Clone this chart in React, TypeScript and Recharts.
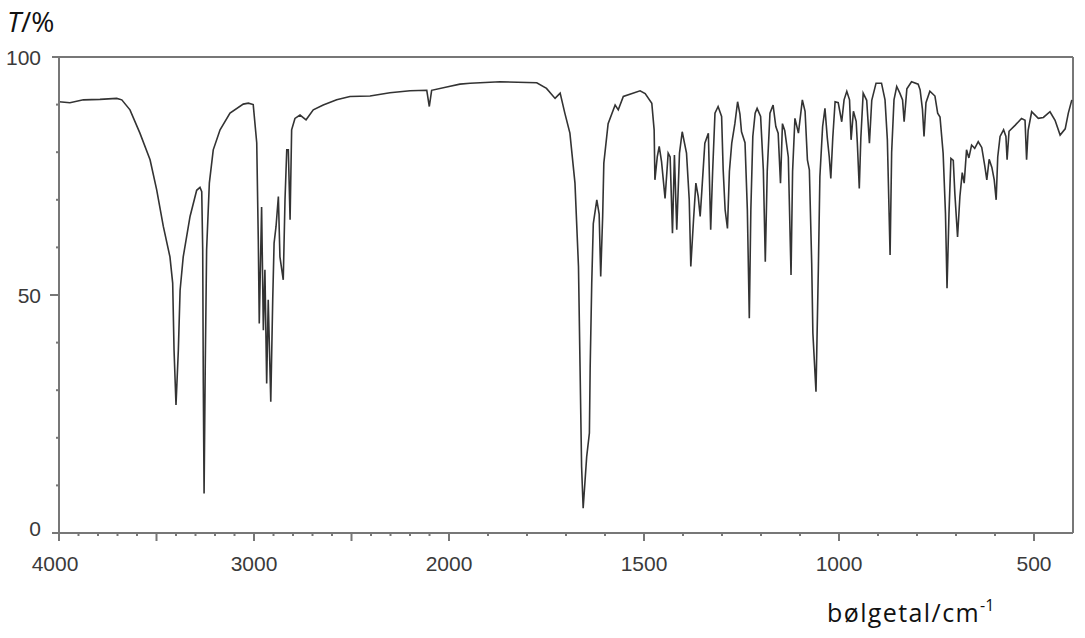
import React from "react";
import { LineChart, Line, XAxis, YAxis, ReferenceLine } from "recharts";

// IR spectrum: wavenumber (cm-1) and transmittance (%)
const wavenumbers = [
  4000, 3944, 3875, 3790, 3704, 3678, 3636, 3585, 3533, 3499, 3465, 3431, 3417, 3410, 3400, 3388, 3379, 3363,
  3328, 3294, 3277, 3268, 3263, 3260, 3256, 3250, 3243, 3229, 3209, 3174, 3123, 3055, 3029, 3004, 2986, 2978,
  2973, 2961, 2952, 2944, 2935, 2927, 2914, 2904, 2897, 2887, 2875, 2867, 2850, 2841, 2832, 2824, 2815, 2807,
  2790, 2764, 2733, 2696, 2645, 2576, 2508, 2405, 2303, 2200, 2114, 2101, 2089, 2000,
  1972, 1946, 1869, 1775, 1750, 1728, 1715, 1703, 1690, 1677, 1668, 1664, 1660, 1656, 1647, 1640, 1638, 1634,
  1630, 1621, 1615, 1611, 1606, 1603, 1592, 1574, 1566, 1553, 1510, 1497, 1480, 1474, 1472, 1466, 1461, 1455,
  1446, 1438, 1433, 1427, 1422, 1416, 1409, 1402, 1391, 1384, 1380, 1373, 1367, 1361, 1356, 1352, 1344, 1335,
  1329, 1324, 1318, 1310, 1301, 1297, 1292, 1286, 1281, 1275, 1267, 1260, 1254, 1250, 1241, 1235, 1230, 1226,
  1221, 1215, 1210, 1201, 1194, 1189, 1184, 1177, 1169, 1162, 1156, 1150, 1145, 1139, 1130, 1123, 1119, 1113,
  1104, 1094, 1087, 1081, 1076, 1070, 1067, 1059, 1053, 1049, 1042, 1036, 1030, 1025, 1021, 1016, 1010, 1002,
  993, 987, 980, 973, 969, 963, 956, 953, 948, 944, 938, 929, 922, 916, 905, 891, 882, 876, 869, 865, 859, 852,
  844, 837, 833, 826, 814, 797, 792, 786, 782, 777, 767, 754, 747, 741, 733, 727, 723, 718, 713, 707, 703, 696,
  690, 684, 679, 673, 667, 660, 652, 643, 634, 626, 621, 615, 608, 602, 597, 593, 587, 578, 572, 569, 564, 548,
  532, 523, 519, 515, 506, 489, 476, 459, 446, 433, 420, 412, 403,
];

const transmittance = [
  90.6, 90.4, 91.0, 91.1, 91.3, 91.0, 88.9, 84.0, 78.4, 72.1, 64.4, 58.0, 52.5, 38.4, 26.9, 38.4, 51.0, 58.0,
  66.5, 72.0, 72.6, 71.7, 59.5, 31.5, 8.3, 35.0, 59.5, 73.5, 80.5, 84.7, 88.2, 90.1, 90.3, 90.0, 82.0, 61.6,
  44.0, 68.5, 42.6, 55.3, 31.4, 49.0, 27.6, 49.0, 60.9, 64.4, 70.7, 58.0, 53.2, 70.0, 80.5, 80.5, 65.8, 84.7,
  87.1, 87.8, 86.8, 88.9, 89.9, 91.0, 91.7, 91.8, 92.5, 92.9, 93.0, 89.6, 93.0, 93.8,
  94.3, 94.5, 94.8, 94.6, 93.4, 91.3, 92.4, 88.2, 84.0, 73.5, 56.0, 35.0, 13.9, 5.2, 16.0, 21.0, 35.0, 52.5,
  65.0, 70.0, 67.0, 53.9, 66.5, 77.7, 86.0, 89.9, 88.9, 91.7, 92.9, 92.3, 90.3, 84.7, 74.2, 79.0, 81.2, 78.0,
  70.3, 79.8, 79.0, 63.0, 79.4, 63.7, 79.8, 84.3, 79.8, 70.0, 56.0, 65.8, 73.5, 70.7, 66.5, 71.5, 81.9, 84.0,
  63.7, 76.0, 88.2, 89.6, 87.5, 76.3, 67.9, 64.0, 76.0, 81.9, 86.0, 90.6, 88.0, 84.3, 82.0, 67.9, 45.1, 68.0,
  83.3, 88.2, 89.2, 87.5, 76.3, 57.0, 76.0, 88.2, 89.9, 85.4, 84.0, 73.5, 86.0, 84.5, 79.0, 54.2, 76.0, 87.1,
  84.0, 91.0, 88.6, 78.4, 76.3, 56.7, 42.0, 29.7, 55.3, 74.9, 85.4, 89.2, 83.0, 79.0, 74.5, 83.0, 90.6, 90.4,
  86.4, 91.0, 92.8, 91.0, 82.6, 88.6, 86.5, 82.0, 72.4, 83.0, 92.4, 90.9, 81.9, 90.9, 94.5, 94.5, 91.0, 82.6,
  58.4, 80.0, 91.0, 93.8, 92.4, 91.0, 86.4, 93.3, 94.8, 94.3, 93.1, 89.0, 83.3, 90.4, 92.8, 91.8, 88.2, 87.4,
  79.8, 67.2, 51.4, 67.0, 78.7, 78.3, 71.4, 62.2, 70.7, 75.7, 73.5, 80.5, 78.8, 81.5, 80.8, 82.2, 81.0, 77.0,
  74.2, 78.5, 76.8, 74.2, 70.0, 79.0, 83.3, 84.7, 83.3, 78.4, 84.4, 85.7, 87.1, 86.7, 78.4, 84.6, 88.5, 87.1,
  87.3, 88.5, 86.7, 83.6, 84.9, 88.2, 91.0,
];

const xTickWavenumbers = [
  4000, 3900, 3800, 3700, 3600, 3500, 3400, 3300, 3200, 3100, 3000, 2900, 2800, 2700, 2600, 2500, 2400, 2300,
  2200, 2100, 2000, 1900, 1800, 1700, 1600, 1500, 1400, 1300, 1200, 1100, 1000, 900, 800, 700, 600, 500,
];
const xLabelled = [4000, 3000, 2000, 1500, 1000, 500];
const yTicks = [0, 10, 20, 30, 40, 50, 60, 70, 80, 90, 100];
const yLabelled = [0, 50, 100];

// the spectrometer doubles the scale below 2000 cm-1
const pos = (wn: number) => (wn >= 2000 ? 4000 - wn : 2000 + 2 * (2000 - wn));
const toWn = (p: number) => (p <= 2000 ? 4000 - p : 2000 - (p - 2000) / 2);

const rows = wavenumbers.map((wn, i) => ({ wn, x: pos(wn), t: transmittance[i] }));

const AXIS = "#777";
const TICK_FONT = "'Liberation Sans', Arial, sans-serif";

function XTick(props: any) {
  const { x, y, payload } = props;
  const wn = Math.round(toWn(payload.value));
  const major = wn % 500 === 0;
  return (
    <g>
      <line x1={x} x2={x} y1={y} y2={y + (major ? 8 : 3)} stroke={AXIS} strokeWidth={2} />
      {xLabelled.includes(wn) && (
        <text
          x={wn === 4000 ? x - 4 : x}
          y={y + 38}
          textAnchor="middle"
          fontFamily={TICK_FONT}
          fontSize={21}
          fill="#3a3a3a"
        >
          {wn}
        </text>
      )}
    </g>
  );
}

function YTick(props: any) {
  const { x, y, payload } = props;
  const v = payload.value;
  const len = v === 50 ? 9 : v === 0 || v === 100 ? 7 : 3;
  return (
    <g>
      <line x1={x - len} x2={x} y1={y} y2={y} stroke={AXIS} strokeWidth={2} />
      {yLabelled.includes(v) && (
        <text
          x={41}
          y={y + (v === 0 ? 3 : 8)}
          textAnchor="end"
          fontFamily={TICK_FONT}
          fontSize={21}
          fill="#3a3a3a"
        >
          {v}
        </text>
      )}
    </g>
  );
}

export default function App() {
  return (
    <div style={{ position: "absolute", left: 0, top: 0, width: 1085, height: 638, background: "#fff" }}>
      <LineChart width={1085} height={638} data={rows} margin={{ top: 57, right: 12, bottom: 65, left: 0 }}>
        <XAxis
          type="number"
          dataKey="x"
          domain={[0, 5200]}
          ticks={xTickWavenumbers.map(pos)}
          interval={0}
          tickSize={0}
          tickMargin={0}
          height={40}
          stroke={AXIS}
          strokeWidth={2}
          tick={(p: any) => <XTick {...p} />}
          label={{
            content: () => (
              <text x={827} y={622} fontFamily="'Open Sans', sans-serif" fontSize={25} letterSpacing={1.4} fill="#111">
                bølgetal/cm
                <tspan dy={-11} fontSize={16} letterSpacing={0}>
                  -1
                </tspan>
              </text>
            ),
          }}
        />
        <YAxis
          type="number"
          domain={[0, 100]}
          ticks={yTicks}
          interval={0}
          tickSize={0}
          tickMargin={0}
          width={59}
          stroke={AXIS}
          strokeWidth={2}
          tick={(p: any) => <YTick {...p} />}
          label={{
            content: () => (
              <text x={7} y={32} fontFamily="'Open Sans', sans-serif" fontSize={28} fill="#111">
                <tspan fontStyle="italic">T</tspan>/%
              </text>
            ),
          }}
        />
        <ReferenceLine y={100} stroke={AXIS} strokeWidth={2} />
        <ReferenceLine x={5200} stroke={AXIS} strokeWidth={2} />
        <Line
          type="linear"
          dataKey="t"
          stroke="#333"
          strokeWidth={1.6}
          dot={false}
          isAnimationActive={false}
        />
      </LineChart>
    </div>
  );
}
